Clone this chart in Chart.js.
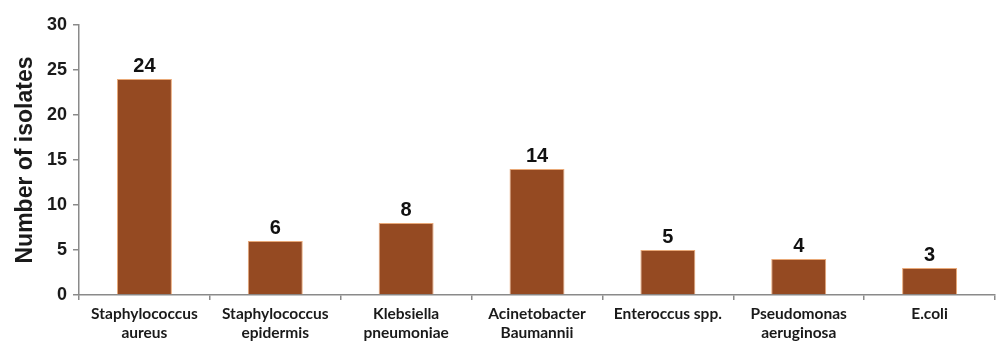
<!DOCTYPE html>
<html>
<head>
<meta charset="utf-8">
<script src="https://cdn.jsdelivr.net/npm/chart.js@4/dist/chart.umd.min.js"></script>
<style>
  html, body { margin: 0; padding: 0; background: #fff; }
  #wrap { width: 998px; height: 346px; }
</style>
</head>
<body>
<div id="wrap"><canvas id="isolatesChart" width="998" height="346"></canvas></div>
<script>
// Data
const CATEGORIES = [
    ['Staphylococcus', 'aureus'],
    ['Staphylococcus', 'epidermis'],
    ['Klebsiella', 'pneumoniae'],
    ['Acinetobacter', 'Baumannii'],
    ['Enteroccus spp.'],
    ['Pseudomonas', 'aeruginosa'],
    ['E.coli']
];
const ISOLATES = [24, 6, 8, 14, 5, 4, 3];
const Y_TICKS = [0, 5, 10, 15, 20, 25, 30];

// value labels above each bar
const valueLabels = {
    id: 'valueLabels',
    afterDatasetsDraw(chart) {
        const ctx = chart.ctx;
        const meta = chart.getDatasetMeta(0);
        ctx.save();
        ctx.font = 'bold 20px "Liberation Sans", Arial, sans-serif';
        ctx.fillStyle = '#111';
        ctx.textAlign = 'center';
        ctx.textBaseline = 'bottom';
        meta.data.forEach((bar, i) => {
            ctx.fillText(String(ISOLATES[i]), bar.x, bar.y - 3);
        });
        ctx.restore();
    }
};

const ctx = document.getElementById('isolatesChart').getContext('2d');
new Chart(ctx, {
    type: 'bar',
    data: {
        labels: CATEGORIES,
        datasets: [{
            data: ISOLATES,
            backgroundColor: '#954a22',
            borderColor: '#e9a978',
            borderWidth: 1,
            categoryPercentage: 1,
            barPercentage: 0.42
        }]
    },
    plugins: [valueLabels],
    options: {
        responsive: false,
        animation: false,
        layout: { padding: { top: 25, right: 3, left: 0, bottom: 0 } },
        plugins: { legend: { display: false }, tooltip: { enabled: false } },
        scales: {
            x: {
                grid: { offset: true, drawOnChartArea: false, drawTicks: true, tickLength: 5, color: '#8a8a8a', lineWidth: 1.5 },
                border: { color: '#8a8a8a', width: 1.5 },
                ticks: {
                    color: '#1a1a1a',
                    font: { family: 'Lato, "Open Sans", sans-serif', size: 15.5, weight: 'bold', lineHeight: 1.2 },
                    padding: 5,
                    maxRotation: 0,
                    autoSkip: false
                },
                afterFit(scale) { scale.height = 51; }
            },
            y: {
                min: 0,
                max: 30,
                afterBuildTicks(scale) { scale.ticks = Y_TICKS.map(v => ({ value: v })); },
                grid: { drawOnChartArea: false, drawTicks: true, tickLength: 6, color: '#8a8a8a', lineWidth: 1.5 },
                border: { color: '#8a8a8a', width: 1.5 },
                ticks: {
                    color: '#1a1a1a',
                    font: { family: '"Liberation Sans", Arial, sans-serif', size: 18, weight: 'bold' },
                    padding: 6
                },
                title: {
                    display: true,
                    text: 'Number of isolates',
                    color: '#1a1a1a',
                    font: { family: '"Liberation Sans", Arial, sans-serif', size: 23, weight: 'bold' },
                    padding: { top: 12, bottom: 0 }
                },
                afterFit(scale) { scale.width = 79; }
            }
        }
    }
});
</script>
</body>
</html>
